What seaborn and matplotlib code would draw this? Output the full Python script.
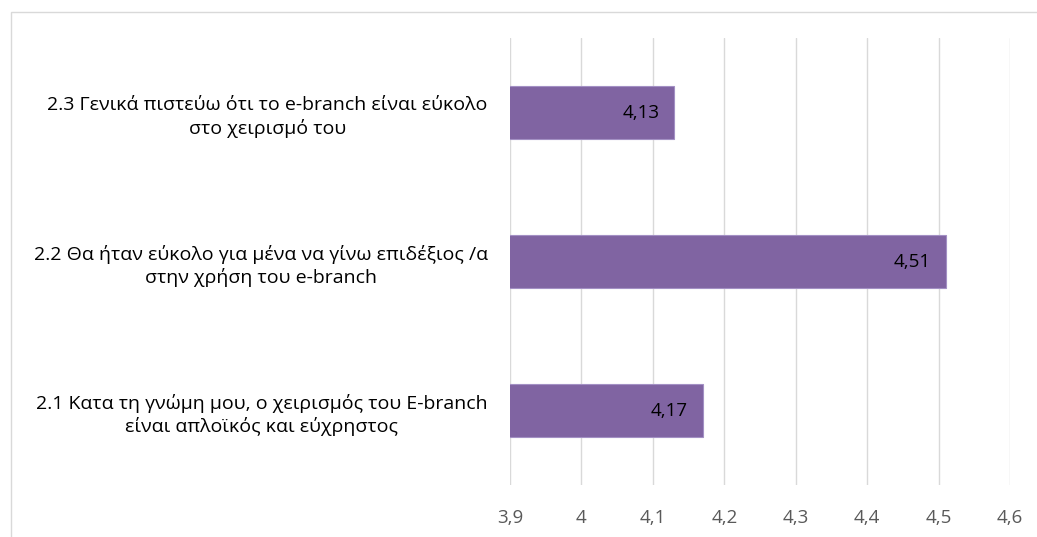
import matplotlib
matplotlib.use("Agg")
import matplotlib.pyplot as plt
from matplotlib.patches import Rectangle
from matplotlib.ticker import FuncFormatter, MultipleLocator
import seaborn as sns
import pandas as pd

# Survey items (top to bottom) and mean scores
items = [
    "2.3 Γενικά πιστεύω ότι το e-branch είναι εύκολο\nστο χειρισμό του",
    "2.2 Θα ήταν εύκολο για μένα να γίνω επιδέξιος /α\nστην χρήση του e-branch",
    "2.1 Κατα τη γνώμη μου, ο χειρισμός του E-branch\nείναι απλοϊκός και εύχρηστος",
]
scores = [4.13, 4.51, 4.17]
value_labels = ["4,13", "4,51", "4,17"]

df = pd.DataFrame({"item": items, "score": scores})

sns.set_theme(style="white")
plt.rcParams["font.family"] = ["Open Sans", "DejaVu Sans"]

fig = plt.figure(figsize=(10.37, 5.37), dpi=100)
ax = fig.add_axes([510 / 1037, 1 - 485 / 537, 500 / 1037, 447 / 537])

sns.barplot(data=df, x="score", y="item", orient="h", order=items,
            color="#8064A2", saturation=1, width=0.355,
            edgecolor="#A390C4", linewidth=0.8, ax=ax, zorder=3)

ax.set_xlim(3.9, 4.6)
ax.xaxis.set_major_locator(MultipleLocator(0.1))
ax.xaxis.set_major_formatter(FuncFormatter(
    lambda v, _: f"{v:.1f}".replace(".", ",").replace(",0", "")))
ax.grid(axis="x", color="#D9D9D9", linewidth=1.0, zorder=0)
ax.grid(axis="y", visible=False)
for side in ["top", "right", "bottom", "left"]:
    ax.spines[side].set_visible(False)
ax.set_xlabel("")
ax.set_ylabel("")
ax.tick_params(axis="x", length=0, pad=17, labelsize=13.5, labelcolor="#595959")
ax.tick_params(axis="y", length=0, pad=16, labelsize=14, labelcolor="#000000")
for lbl in ax.get_yticklabels():
    lbl.set_multialignment("center")
    lbl.set_linespacing(1.3)

for i, (s, txt) in enumerate(zip(scores, value_labels)):
    ax.annotate(txt, xy=(s, i), xytext=(-15, 0), textcoords="offset pixels",
                ha="right", va="center", fontsize=13.5, color="#000000", zorder=4)

# Light frame around the chart area
fig.patches.append(Rectangle((11 / 1037, -0.1), 1.1, 1.1 - 12 / 537,
                             transform=fig.transFigure, fill=False,
                             edgecolor="#D9D9D9", linewidth=1.0))

fig.savefig("out.png", dpi=100)
